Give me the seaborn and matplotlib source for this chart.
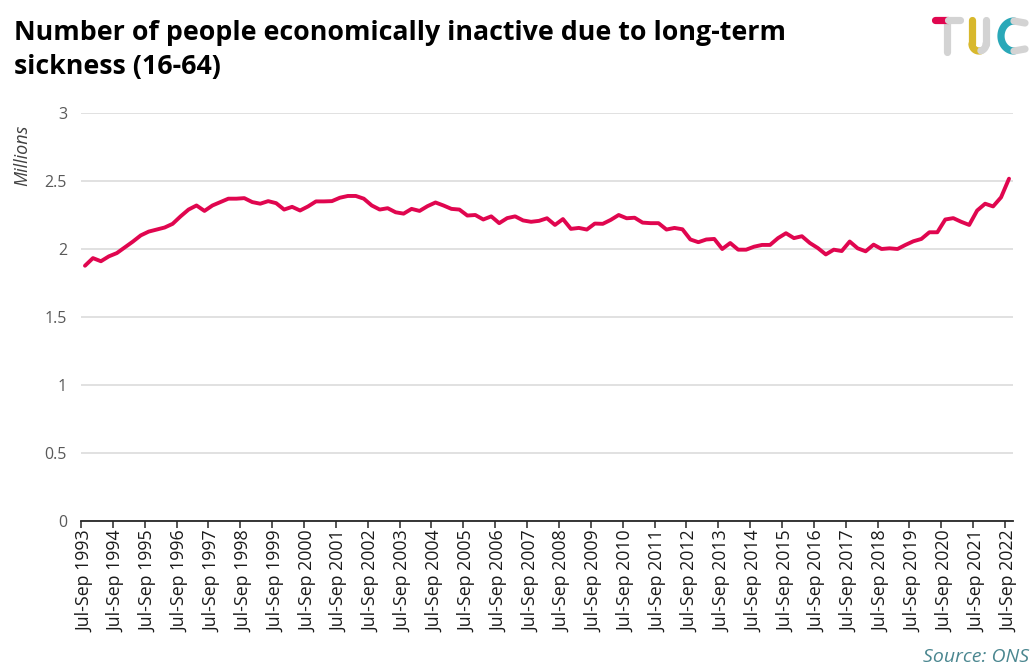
import matplotlib
matplotlib.use("Agg")
import matplotlib.pyplot as plt
import numpy as np
import pandas as pd
import seaborn as sns

# Quarterly series, Jul-Sep 1993 to Jul-Sep 2022 (millions, aged 16-64)
first_year = 1993
last_year = 2022
quarter_names = ["Jul-Sep", "Oct-Dec", "Jan-Mar", "Apr-Jun"]

inactive_millions = [
    1.877, 1.933, 1.910, 1.946, 1.970, 2.012, 2.054, 2.100, 2.128, 2.143,
    2.158, 2.185, 2.240, 2.290, 2.320, 2.280, 2.320, 2.345, 2.370,
    2.370, 2.374, 2.345, 2.333, 2.352, 2.337, 2.290, 2.310, 2.283, 2.313,
    2.350, 2.350, 2.352, 2.377, 2.390, 2.390, 2.370, 2.320, 2.290,
    2.300, 2.270, 2.260, 2.295, 2.280, 2.315, 2.342, 2.320, 2.295, 2.290,
    2.246, 2.250, 2.217, 2.240, 2.190, 2.227, 2.240, 2.210, 2.200, 2.207,
    2.226, 2.177, 2.220, 2.148, 2.155, 2.143, 2.187, 2.185, 2.214, 2.250,
    2.226, 2.230, 2.194, 2.190, 2.190, 2.143, 2.155, 2.145, 2.070, 2.050,
    2.070, 2.074, 2.000, 2.044, 1.995, 1.995, 2.017, 2.030, 2.030, 2.080,
    2.116, 2.080, 2.094, 2.044, 2.007, 1.960, 1.995, 1.985, 2.055,
    2.005, 1.983, 2.032, 2.000, 2.005, 2.000, 2.030, 2.057, 2.074, 2.123,
    2.123, 2.217, 2.227, 2.200, 2.177, 2.283, 2.333, 2.313, 2.380, 2.517,
]

y_ticks = [0, 0.5, 1, 1.5, 2, 2.5, 3]
y_tick_labels = ["0", "0.5", "1", "1.5", "2", "2.5", "3"]

# Build the quarter labels
labels = []
for k in range(len(inactive_millions)):
    q = k % 4
    yr = first_year + (k + 2) // 4
    labels.append(f"{quarter_names[q]} {yr}")

df = pd.DataFrame({"pos": np.arange(len(inactive_millions)),
                   "quarter": labels,
                   "value": inactive_millions})

sns.set_theme(style="white")
plt.rcParams["font.family"] = ["Open Sans", "DejaVu Sans"]

LINE = "#e0064f"
GRID = "#d9d9d9"

fig = plt.figure(figsize=(10.35, 6.68), dpi=100)
ax = fig.add_axes([81 / 1035, 1 - 521 / 668, (1013 - 81) / 1035, (521 - 113) / 668])

sns.lineplot(data=df, x="pos", y="value", ax=ax, color=LINE, linewidth=2.8,
             solid_capstyle="round", solid_joinstyle="round")

ax.set_xlim(-0.5, len(inactive_millions) - 0.5)
ax.set_ylim(0, 3)
ax.set_yticks(y_ticks)
ax.set_yticklabels(y_tick_labels)
ax.yaxis.grid(True, color=GRID, linewidth=1.1)
ax.set_axisbelow(True)
ax.tick_params(axis="y", length=0, pad=10, labelsize=11.5, labelcolor="#595959")

# Year ticks sit on category boundaries; labels sit on the Jul-Sep categories
label_pos = [i for i in range(len(inactive_millions)) if i % 4 == 0]
ax.set_xticks([p - 0.5 for p in label_pos])
ax.set_xticklabels([])
ax.set_xticks(label_pos, minor=True)
ax.set_xticklabels([labels[p] for p in label_pos], minor=True, rotation=90,
                   fontsize=12.8, color="#1a1a1a")
ax.tick_params(axis="x", which="major", length=5, width=1.1, color="#262626",
               direction="out", bottom=True)
ax.tick_params(axis="x", which="minor", length=0, pad=7)

for side in ["left", "right", "top"]:
    ax.spines[side].set_visible(False)
ax.spines["bottom"].set_color("#262626")
ax.spines["bottom"].set_linewidth(1.3)
ax.set_xlabel("")
ax.set_ylabel("")

fig.text(14 / 1035, 1 - 20 / 668,
         "Number of people economically inactive due to long-term\nsickness (16-64)",
         ha="left", va="top", fontsize=19.3, fontweight="bold", color="#000000",
         linespacing=1.42)
fig.text(22 / 1035, 1 - 155 / 668, "Millions", rotation=90, ha="center",
         va="center", fontsize=13, style="italic", color="#404040")
fig.text(1029 / 1035, 1 - 657 / 668, "Source: ONS", ha="right", va="center",
         fontsize=14, style="italic", color="#4b8790")

# TUC logo
lg = fig.add_axes([928 / 1035, 1 - 58 / 668, 104 / 1035, 46 / 668])
lg.set_xlim(0, 104)
lg.set_ylim(46, 0)
lg.axis("off")
kw = dict(linewidth=5.2, solid_capstyle="round")
grey = "#d3d3d3"
lg.plot([19, 19], [9, 40], color=grey, **kw)
lg.plot([7, 20], [8, 8], color="#e0064f", **kw)
lg.plot([20, 32], [8, 8], color=grey, **kw)
th = np.linspace(np.pi, 2 * np.pi, 30)
ux = 51 + 7 * np.cos(th)
uy = 32 - 7 * np.sin(th)
lg.plot([44, 44], [8, 32], color="#d8b82c", **kw)
lg.plot(ux[:18], uy[:18], color="#d8b82c", **kw)
lg.plot(ux[17:], uy[17:], color=grey, **kw)
lg.plot([58, 58], [8, 32], color=grey, **kw)
tc = np.linspace(np.pi / 2, 3 * np.pi / 2, 40)
lg.plot(86 + 13 * np.cos(tc), 24 - 15 * np.sin(tc), color="#2aa8b8", **kw)
lg.plot([86, 97], [9, 11], color=grey, **kw)
lg.plot([86, 97], [39, 37], color=grey, **kw)

fig.savefig("out.png", dpi=100, facecolor="white")
